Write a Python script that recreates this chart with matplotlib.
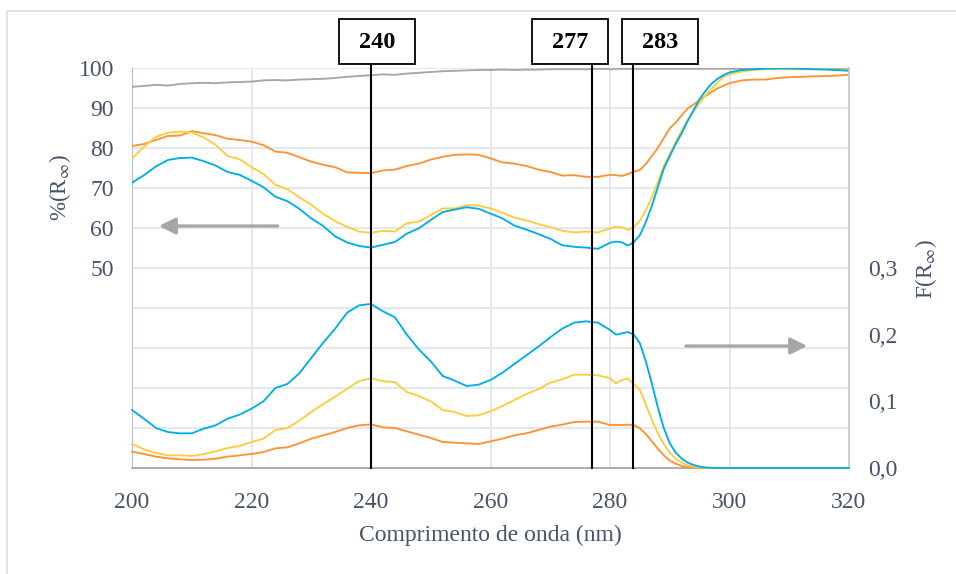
import matplotlib
matplotlib.use("Agg")
import matplotlib.pyplot as plt
from matplotlib.patches import Rectangle

# ---------------- data ----------------
wavelength = [200, 202, 204, 206, 208, 210, 212, 214, 216, 218, 220, 222, 224, 226, 228, 230,
              232, 234, 236, 238, 240, 242, 244, 246, 248, 250, 252, 254, 256, 258, 260, 262,
              264, 266, 268, 270, 272, 274, 276, 278, 280, 281, 282, 283, 284, 285, 286, 287,
              288, 289, 290, 291, 292, 293, 294, 295, 296, 297, 298, 299, 300, 302, 304, 306,
              308, 310, 312, 314, 316, 318, 320]

r_gray = [95.3, 95.5, 95.8, 95.6, 96.0, 96.2, 96.3, 96.2, 96.4, 96.5, 96.6, 96.9, 97.0, 96.9, 97.1, 97.2,
          97.3, 97.5, 97.8, 98.0, 98.2, 98.4, 98.3, 98.6, 98.8, 99.0, 99.2, 99.3, 99.4, 99.5, 99.5, 99.6,
          99.5, 99.6, 99.6, 99.7, 99.7, 99.7, 99.7, 99.8, 99.7, 99.8, 99.8, 99.8, 99.8, 99.8, 99.8, 99.8,
          99.8, 99.8, 99.8, 99.8, 99.8, 99.8, 99.8, 99.8, 99.8, 99.8, 99.8, 99.8, 99.8, 99.8, 99.9, 99.9,
          99.9, 99.9, 99.9, 99.9, 99.9, 99.9, 99.9]

r_orange = [80.5, 81.0, 82.0, 83.0, 83.1, 84.2, 83.7, 83.2, 82.3, 82.0, 81.6, 80.7, 79.1, 78.8, 77.7, 76.6,
            75.8, 75.2, 73.9, 73.8, 73.7, 74.4, 74.6, 75.5, 76.1, 77.1, 77.8, 78.3, 78.4, 78.3, 77.4, 76.4,
            76.1, 75.5, 74.6, 74.0, 73.1, 73.2, 72.8, 72.8, 73.3, 73.2, 73.0, 73.5, 74.1, 74.5, 76.0, 78.0,
            80.0, 82.5, 84.9, 86.4, 88.2, 89.9, 90.9, 92.0, 93.0, 94.0, 94.9, 95.6, 96.2, 96.9, 97.1, 97.1,
            97.5, 97.7, 97.8, 97.9, 98.0, 98.1, 98.3]

r_yellow = [77.4, 80.3, 82.8, 83.8, 84.1, 83.9, 82.6, 80.8, 78.0, 77.2, 75.2, 73.5, 70.8, 69.7, 67.7, 65.8,
            63.5, 61.7, 60.3, 59.1, 58.8, 59.3, 59.1, 61.2, 61.6, 63.2, 64.9, 64.9, 65.7, 65.6, 64.9, 63.8,
            62.6, 61.9, 61.0, 60.2, 59.3, 58.9, 59.1, 58.9, 59.9, 60.3, 60.2, 59.5, 60.3, 61.8, 64.5, 67.6,
            71.5, 75.5, 78.5, 81.5, 84.4, 87.0, 89.1, 91.3, 93.2, 94.8, 96.4, 97.8, 98.4, 99.1, 99.5, 99.7,
            99.7, 99.7, 99.7, 99.7, 99.7, 99.6, 99.6]

r_blue = [71.3, 73.2, 75.4, 77.0, 77.5, 77.6, 76.7, 75.6, 74.0, 73.3, 71.8, 70.2, 67.8, 66.7, 64.8, 62.4,
          60.5, 57.9, 56.4, 55.5, 55.1, 55.8, 56.5, 58.6, 59.9, 62.0, 64.0, 64.6, 65.2, 64.8, 63.6, 62.4,
          60.6, 59.6, 58.5, 57.3, 55.7, 55.3, 55.1, 54.8, 56.3, 56.6, 56.4, 55.6, 56.5, 58.2, 61.5, 65.5,
          70.2, 74.8, 78.0, 81.0, 83.7, 86.8, 89.5, 92.2, 94.3, 96.1, 97.3, 98.25, 98.9, 99.5, 99.7, 99.8,
          99.9, 99.9, 99.8, 99.7, 99.6, 99.5, 99.3]

f_orange = [0.0245, 0.021, 0.017, 0.0145, 0.013, 0.012, 0.0125, 0.014, 0.017, 0.019, 0.021, 0.024, 0.0295, 0.031, 0.037, 0.044,
            0.049, 0.054, 0.060, 0.064, 0.0655, 0.061, 0.060, 0.055, 0.050, 0.045, 0.039, 0.038, 0.037, 0.036, 0.040, 0.044,
            0.049, 0.052, 0.057, 0.062, 0.065, 0.069, 0.0695, 0.0695, 0.0645, 0.0645, 0.0645, 0.065, 0.0645, 0.0595, 0.051, 0.040,
            0.029, 0.019, 0.011, 0.0065, 0.003, 0.0012, 0.0004, 0.0, 0.0, 0.0, 0.0, 0.0, 0.0, 0.0, 0.0, 0.0,
            0.0, 0.0, 0.0, 0.0, 0.0, 0.0, 0.0]

f_yellow = [0.036, 0.028, 0.0225, 0.019, 0.019, 0.018, 0.021, 0.025, 0.030, 0.033, 0.039, 0.044, 0.057, 0.060, 0.071, 0.084,
            0.096, 0.107, 0.119, 0.1305, 0.1345, 0.130, 0.129, 0.114, 0.108, 0.100, 0.087, 0.084, 0.078, 0.079, 0.085, 0.093,
            0.102, 0.111, 0.118, 0.128, 0.133, 0.140, 0.140, 0.139, 0.1345, 0.127, 0.132, 0.134, 0.126, 0.117, 0.095, 0.072,
            0.052, 0.036, 0.023, 0.014, 0.008, 0.004, 0.002, 0.001, 0.0003, 0.0, 0.0, 0.0, 0.0, 0.0, 0.0, 0.0,
            0.0, 0.0, 0.0, 0.0, 0.0, 0.0, 0.0]

f_blue = [0.087, 0.074, 0.060, 0.054, 0.052, 0.052, 0.059, 0.064, 0.074, 0.080, 0.089, 0.100, 0.120, 0.126, 0.142, 0.165,
          0.188, 0.209, 0.233, 0.244, 0.246, 0.235, 0.226, 0.200, 0.178, 0.160, 0.138, 0.131, 0.123, 0.125, 0.132, 0.143,
          0.156, 0.169, 0.182, 0.196, 0.209, 0.218, 0.220, 0.218, 0.207, 0.200, 0.202, 0.204, 0.200, 0.187, 0.160, 0.127,
          0.091, 0.060, 0.037, 0.023, 0.014, 0.008, 0.0045, 0.002, 0.0008, 0.0003, 0.0001, 0.0, 0.0, 0.0, 0.0, 0.0,
          0.0, 0.0, 0.0, 0.0, 0.0, 0.0, 0.0]

marker_positions = [240, 277, 283.8]
marker_labels = ["240", "277", "283"]

x_ticks = [200, 220, 240, 260, 280, 300, 320]
left_ticks = [0, 10, 20, 30, 40, 50, 60, 70, 80, 90, 100]
left_tick_labels = ["", "", "", "", "", "50", "60", "70", "80", "90", "100"]
right_ticks = [0.0, 0.1, 0.2, 0.3]
right_tick_labels = ["0,0", "0,1", "0,2", "0,3"]

# ---------------- style ----------------
C_GRAY = "#A6A6A6"
C_ORANGE = "#FF9334"
C_YELLOW = "#FFCC3F"
C_BLUE = "#00AEEB"
C_TEXT = "#44546A"
C_GRID = "#DDE2E9"

plt.rcParams["font.family"] = ["Liberation Serif", "DejaVu Serif"]
plt.rcParams["mathtext.fontset"] = "stix"

W, H = 956, 574
fig = plt.figure(figsize=(W / 100, H / 100), dpi=100)

# outer chart frame
fig.patches.append(Rectangle((7 / W, -0.05), 1.2, 1 - 11 / H + 0.05, transform=fig.transFigure,
                             fill=False, edgecolor="#DADDE2", linewidth=1.1, clip_on=False))

ax = fig.add_axes([132 / W, 1 - 468 / H, 717 / W, 400 / H])
ax2 = ax.twinx()

ax.set_xlim(200, 320)
ax.set_ylim(0, 100)
ax2.set_ylim(0, 0.6)

ax.set_xticks(x_ticks)
ax.set_yticks(left_ticks)
ax.set_yticklabels(left_tick_labels)
ax2.set_yticks(right_ticks)
ax2.set_yticklabels(right_tick_labels)

ax.grid(True, color=C_GRID, linewidth=1.1, zorder=0)
ax.set_axisbelow(True)

for a in (ax, ax2):
    a.tick_params(length=0, labelsize=17, labelcolor=C_TEXT)
    for s in ("top", "left", "right", "bottom"):
        a.spines[s].set_visible(False)
ax.tick_params(axis="y", pad=13)
ax.tick_params(axis="x", pad=17)
ax2.tick_params(axis="y", pad=14)
ax.spines["left"].set_visible(True)
ax.spines["left"].set_color("#B8C0CC")
ax.spines["bottom"].set_visible(True)
ax.spines["bottom"].set_color("#A6A6A6")
ax.spines["bottom"].set_linewidth(1.3)
ax2.spines["right"].set_visible(True)
ax2.spines["right"].set_color("#C4CAD3")
ax2.spines["right"].set_linewidth(1.3)

lw = 1.35
ax.plot(wavelength, r_gray, color=C_GRAY, lw=lw, zorder=3)
ax.plot(wavelength, r_orange, color=C_ORANGE, lw=lw, zorder=3)
ax.plot(wavelength, r_yellow, color=C_YELLOW, lw=lw, zorder=3)
ax.plot(wavelength, r_blue, color=C_BLUE, lw=lw, zorder=3)
ax2.plot(wavelength, f_orange, color=C_ORANGE, lw=lw, zorder=3, clip_on=False)
ax2.plot(wavelength, f_yellow, color=C_YELLOW, lw=lw, zorder=3, clip_on=False)
ax2.plot(wavelength, f_blue, color=C_BLUE, lw=lw, zorder=3, clip_on=False)

# vertical marker lines
for xm in marker_positions:
    ax2.axvline(xm, ymin=0, ymax=1.01, color="black", lw=1.5, zorder=5, clip_on=False)

# label boxes (figure pixel positions)
box_left_px = [339, 532, 622]
for lab, bx in zip(marker_labels, box_left_px):
    fig.patches.append(Rectangle((bx / W, 1 - 64 / H), 76 / W, 45 / H, transform=fig.transFigure,
                                 facecolor="white", edgecolor="black", linewidth=1.3, zorder=10))
    fig.text((bx + 38) / W, 1 - 42.5 / H, lab, ha="center", va="center", fontsize=17.5,
             fontweight="bold", color="black", zorder=11)

# arrows
ax.annotate("", xy=(204.5, 60.5), xytext=(224.4, 60.5),
            arrowprops=dict(arrowstyle="-|>,head_length=1.0,head_width=0.5", color=C_GRAY, lw=2.3,
                            shrinkA=0, shrinkB=0), zorder=4)
ax.annotate("", xy=(313.0, 30.5), xytext=(292.7, 30.5),
            arrowprops=dict(arrowstyle="-|>,head_length=1.0,head_width=0.5", color=C_GRAY, lw=2.3,
                            shrinkA=0, shrinkB=0), zorder=4)

# axis labels
ax.set_xlabel("Comprimento de onda (nm)", fontsize=17, color=C_TEXT, labelpad=9)
ax.set_ylabel(r"%(R$_{\infty}$)", fontsize=16.5, color=C_TEXT)
ax.yaxis.set_label_coords(-0.0823, 0.70)
ax2.set_ylabel(r"F(R$_{\infty}$)", fontsize=16.5, color=C_TEXT)
ax2.yaxis.set_label_coords(1.089, 0.4975)

fig.savefig("out.png", dpi=100)
